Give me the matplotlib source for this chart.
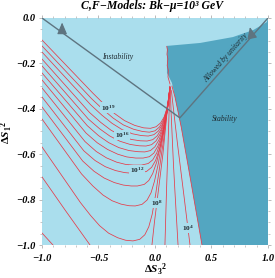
import matplotlib
matplotlib.use("Agg")
import matplotlib.pyplot as plt
from matplotlib.ticker import MultipleLocator, FuncFormatter

plt.rcParams['mathtext.fontset'] = 'custom'
plt.rcParams['mathtext.rm'] = 'Liberation Serif:bold'
plt.rcParams['mathtext.it'] = 'Liberation Serif:italic:bold'
plt.rcParams['mathtext.bf'] = 'Liberation Serif:bold'

# --- data ---
# U-shaped contour lines, highest level first (x, y pairs)
u_lines = [
    [(-1, -0.097), (-0.55, -0.331), (-0.45, -0.38), (-0.36, -0.42), (-0.27, -0.452), (-0.18, -0.473),
     (-0.10, -0.484), (-0.04, -0.486), (0.01, -0.479), (0.05, -0.462), (0.08, -0.437), (0.10, -0.407),
     (0.115, -0.372), (0.125, -0.335), (0.132, -0.30)],
    [(-1, -0.123), (-0.56, -0.356), (-0.46, -0.403), (-0.37, -0.441), (-0.28, -0.471), (-0.19, -0.490),
     (-0.11, -0.500), (-0.05, -0.503), (0.00, -0.497), (0.04, -0.480), (0.07, -0.455), (0.095, -0.420),
     (0.112, -0.383), (0.124, -0.345), (0.132, -0.305)],
    [(-1, -0.150), (-0.57, -0.382), (-0.47, -0.428), (-0.38, -0.464), (-0.29, -0.492), (-0.20, -0.510),
     (-0.12, -0.518), (-0.06, -0.520), (-0.01, -0.514), (0.03, -0.498), (0.065, -0.470), (0.09, -0.433),
     (0.11, -0.393), (0.123, -0.350), (0.132, -0.305)],
    [(-1, -0.181), (-0.58, -0.416), (-0.48, -0.460), (-0.39, -0.494), (-0.30, -0.519), (-0.21, -0.535),
     (-0.13, -0.541), (-0.07, -0.542), (-0.02, -0.536), (0.02, -0.519), (0.055, -0.490), (0.085, -0.450),
     (0.107, -0.405), (0.122, -0.357), (0.132, -0.305)],
    [(-1, -0.211), (-0.59, -0.445), (-0.49, -0.488), (-0.40, -0.520), (-0.31, -0.543), (-0.22, -0.557),
     (-0.14, -0.563), (-0.08, -0.564), (-0.03, -0.558), (0.01, -0.541), (0.045, -0.512), (0.078, -0.470),
     (0.103, -0.420), (0.12, -0.365), (0.132, -0.305)],
    [(-1, -0.242), (-0.60, -0.474), (-0.50, -0.518), (-0.41, -0.549), (-0.32, -0.571), (-0.23, -0.584),
     (-0.15, -0.589), (-0.09, -0.590), (-0.04, -0.584), (0.00, -0.567), (0.035, -0.537), (0.07, -0.492),
     (0.098, -0.437), (0.118, -0.375), (0.132, -0.305)],
    [(-1, -0.273), (-0.61, -0.507), (-0.51, -0.550), (-0.42, -0.579), (-0.33, -0.600), (-0.25, -0.612),
     (-0.17, -0.617), (-0.105, -0.617), (-0.05, -0.611), (-0.01, -0.595), (0.025, -0.565), (0.06, -0.518),
     (0.092, -0.455), (0.115, -0.385), (0.132, -0.305)],
    [(-1, -0.308), (-0.62, -0.544), (-0.52, -0.588), (-0.43, -0.616), (-0.34, -0.635), (-0.26, -0.645),
     (-0.19, -0.648), (-0.12, -0.648), (-0.06, -0.641), (-0.02, -0.625), (0.015, -0.595), (0.05, -0.545),
     (0.085, -0.475), (0.112, -0.395), (0.132, -0.305)],
    [(-1, -0.348), (-0.63, -0.585), (-0.53, -0.628), (-0.44, -0.655), (-0.35, -0.672), (-0.27, -0.681),
     (-0.20, -0.684), (-0.135, -0.683), (-0.075, -0.676), (-0.03, -0.658), (0.005, -0.628), (0.04, -0.577),
     (0.077, -0.500), (0.108, -0.410), (0.132, -0.305)],
    [(-1, -0.392), (-0.64, -0.630), (-0.54, -0.675), (-0.45, -0.705), (-0.36, -0.725), (-0.28, -0.736),
     (-0.21, -0.740), (-0.155, -0.740), (-0.095, -0.733), (-0.055, -0.716), (-0.02, -0.685), (0.015, -0.635),
     (0.05, -0.56), (0.085, -0.47), (0.11, -0.39), (0.132, -0.305)],
    [(-1, -0.445), (-0.65, -0.687), (-0.55, -0.740), (-0.46, -0.780), (-0.38, -0.805), (-0.30, -0.820),
     (-0.23, -0.827), (-0.175, -0.828), (-0.115, -0.821), (-0.07, -0.802), (-0.035, -0.77), (-0.005, -0.72),
     (0.03, -0.64), (0.065, -0.54), (0.10, -0.43), (0.132, -0.31)],
    [(-1, -0.568), (-0.66, -0.813), (-0.57, -0.870), (-0.49, -0.915), (-0.41, -0.948), (-0.33, -0.968),
     (-0.26, -0.979), (-0.195, -0.982), (-0.135, -0.975), (-0.09, -0.955), (-0.055, -0.92), (-0.025, -0.865),
     (0.005, -0.78), (0.04, -0.66), (0.075, -0.54), (0.105, -0.42), (0.132, -0.315)],
]

# contour pieces cut by the bottom edge
left_pieces = [
    [(-1, -0.700), (-0.79, -0.850), (-0.575, -1.0)],
    [(-1, -0.947), (-0.903, -1.0)],
]
right_pieces = [
    [(-0.027, -1.0), (-0.005, -0.9), (0.02, -0.8), (0.045, -0.70), (0.07, -0.60), (0.09, -0.50),
     (0.11, -0.40), (0.133, -0.31)],
    [(0.088, -1.0), (0.095, -0.88), (0.102, -0.76), (0.11, -0.64), (0.118, -0.52), (0.125, -0.41),
     (0.133, -0.31)],
    [(0.204, -1.0), (0.19, -0.88), (0.176, -0.76), (0.163, -0.64), (0.152, -0.52), (0.142, -0.41),
     (0.135, -0.31)],
    [(0.310, -1.0), (0.285, -0.9), (0.258, -0.79), (0.228, -0.67), (0.198, -0.55), (0.17, -0.43),
     (0.145, -0.32)],
    [(0.416, -1.0), (0.354, -0.824), (0.292, -0.648), (0.232, -0.48), (0.177, -0.348), (0.15, -0.30)],
]

# ragged numerical edge near the stability boundary
edge_x = [0.133, 0.115, 0.118, 0.108, 0.114, 0.106, 0.110, 0.104]
edge_y = [-0.291, -0.26, -0.23, -0.21, -0.18, -0.16, -0.14, -0.125]

# stability region outline
stab_x = [0.106, 0.40, 0.69, 0.87, 0.99, 1.0, 1.0, 0.416, 0.354, 0.292, 0.232, 0.177, 0.150, 0.106]
stab_y = [-0.123, -0.110, -0.084, -0.053, -0.018, 0.0, -1.0, -1.0, -0.824, -0.648, -0.480, -0.348, -0.286, -0.242]

# unitarity bound (two straight pieces)
unit_x = [-1.0, 0.22, 1.0]
unit_y = [0.0, -0.44, 0.0]

# contour labels
lab_text = [r'$10^{19}$', r'$10^{16}$', r'$10^{12}$', r'$10^{8}$', r'$10^{4}$']
lab_x = [-0.416, -0.292, -0.159, 0.018, 0.292]
lab_y = [-0.396, -0.515, -0.670, -0.815, -0.925]

light = '#aadeed'
dark = '#53a6c1'
red = '#e63a48'
gray = '#5e7480'

fig = plt.figure(figsize=(2.75, 2.78), dpi=100)
ax = fig.add_axes([0.1527, 0.1187, 0.8218, 0.8166])
ax.set_facecolor(light)
ax.fill(stab_x, stab_y, color=dark, lw=0, zorder=1)

for pts in u_lines + left_pieces + right_pieces:
    xs, ys = zip(*pts)
    ax.plot(xs, ys, color=red, lw=0.55, zorder=2)
ax.plot(edge_x, edge_y, color=red, lw=0.55, zorder=2)

ax.plot(unit_x, unit_y, color=gray, lw=1.0, zorder=3)
arrow = dict(arrowstyle='-|>,head_length=0.7,head_width=0.3', color=gray, lw=0.8,
             shrinkA=0, shrinkB=0, mutation_scale=10)
ax.annotate('', xy=(-0.822, -0.020), xytext=(-0.822, -0.064), arrowprops=arrow, zorder=3)
ax.annotate('', xy=(0.840, -0.040), xytext=(0.858, -0.083), arrowprops=arrow, zorder=3)

tfont = dict(family='Liberation Serif', style='italic', fontsize=5.5, color='#1e2a30')
ax.text(-0.33, -0.17, 'Instability', ha='center', va='center', **tfont)
ax.text(0.62, -0.445, 'Stability', ha='center', va='center', **tfont)
ax.text(0.628, -0.176, 'Allowed by unitarity', ha='center', va='center',
        rotation=48.6, rotation_mode='anchor', **tfont)

for t, x, y in zip(lab_text, lab_x, lab_y):
    ax.text(x, y, t, ha='center', va='center', fontsize=5.3, color='#1e2a30', zorder=4,
            bbox=dict(boxstyle='square,pad=0.1', fc=light, ec='none'))

ax.set_xlim(-1, 1)
ax.set_ylim(-1, 0)
for s in ax.spines.values():
    s.set_visible(False)
ax.xaxis.set_major_locator(MultipleLocator(0.5))
ax.xaxis.set_minor_locator(MultipleLocator(0.1))
ax.yaxis.set_major_locator(MultipleLocator(0.2))
ax.yaxis.set_minor_locator(MultipleLocator(0.05))
fmt = FuncFormatter(lambda v, p: ('%.1f' % v).replace('-', '\u2212'))
ax.xaxis.set_major_formatter(fmt)
ax.yaxis.set_major_formatter(fmt)
ax.tick_params(which='both', direction='out', color='#b0b0b0', top=True, right=True,
               labeltop=False, labelright=False)
ax.tick_params(which='major', length=2.5, width=0.6)
ax.tick_params(which='minor', length=1.5, width=0.5)
ax.tick_params(axis='x', pad=4)
ax.tick_params(axis='y', pad=2)
for lab in ax.get_xticklabels() + ax.get_yticklabels():
    lab.set_family('Liberation Serif')
    lab.set_style('italic')
    lab.set_weight('bold')
    lab.set_fontsize(7.5)

fig.text(0.553, 0.978, 'C,F\u2212Models: Bk\u2212\u03bc=10\u00b3 GeV', ha='center', va='center',
         family='Liberation Serif', style='italic', weight='bold', fontsize=8.5)
fig.text(0.564, 0.03, r'$\Delta S_3{}^2$', ha='center', va='center', fontsize=8)
fig.text(0.025, 0.525, r'$\Delta S_1{}^2$', ha='center', va='center', fontsize=8, rotation=90)

fig.savefig('out.png', dpi=100)
